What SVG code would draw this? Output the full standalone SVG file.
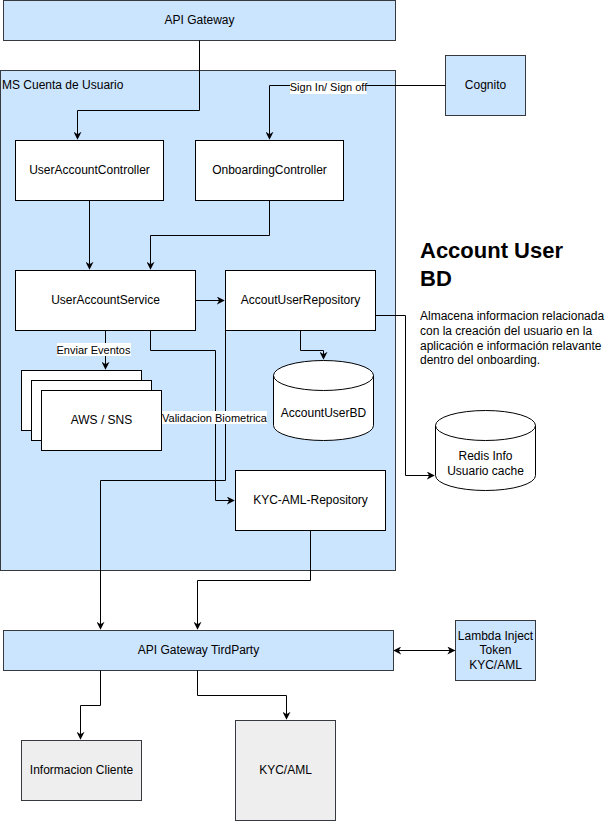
<svg xmlns="http://www.w3.org/2000/svg" width="616" height="821" viewBox="0 0 616 821">
<style>
.blue{fill:#cce5ff;stroke:#36393d;stroke-width:1}
.white{fill:#ffffff;stroke:#000000;stroke-width:1}
.gray{fill:#eeeeee;stroke:#36393d;stroke-width:1}
text{font-family:"Liberation Sans",Arial,Helvetica,sans-serif;font-size:12px;fill:#000000}
.c{text-anchor:middle}
.lbl{font-size:11px}
.e{fill:none;stroke:#000000;stroke-width:1}
.lb{fill:#ffffff}
</style>
<defs>
<marker id="arr" viewBox="0 0 10 10" refX="9" refY="5" markerWidth="8" markerHeight="8" orient="auto-start-reverse" markerUnits="userSpaceOnUse">
<path d="M0,0 L10,5 L0,10 L3,5 Z" fill="#000000"/>
</marker>
</defs>
<g id="ms-container">
<rect class="blue" x="0.5" y="70.5" width="395" height="500"/>
<text x="2" y="89">MS Cuenta de Usuario</text>
</g>
<g id="api-gateway">
<rect class="blue" x="3.5" y="0.5" width="392" height="40"/>
<text class="c" x="199.5" y="24">API Gateway</text>
</g>
<g id="cognito">
<rect class="blue" x="445.5" y="55.5" width="80" height="60"/>
<text class="c" x="485.5" y="89">Cognito</text>
</g>
<g id="user-account-controller">
<rect class="white" x="15.5" y="140.5" width="148" height="60"/>
<text class="c" x="89.5" y="174">UserAccountController</text>
</g>
<g id="onboarding-controller">
<rect class="white" x="195.5" y="140.5" width="148" height="60"/>
<text class="c" x="269.5" y="174">OnboardingController</text>
</g>
<g id="user-account-service">
<rect class="white" x="15.5" y="270.5" width="180" height="60"/>
<text class="c" x="105.5" y="304">UserAccountService</text>
</g>
<g id="accout-user-repository">
<rect class="white" x="225.5" y="270.5" width="150" height="60"/>
<text class="c" x="300.5" y="304">AccoutUserRepository</text>
</g>
<g id="aws-sns">
<rect class="white" x="21.5" y="370.5" width="120" height="60"/>
<rect class="white" x="31.5" y="380.5" width="120" height="60"/>
<rect class="white" x="41.5" y="390.5" width="120" height="60"/>
<text class="c" x="101.5" y="424">AWS / SNS</text>
</g>
<g id="account-user-bd">
<path class="white" d="M273.5,375.5 A50,15 0 0 1 373.5,375.5 L373.5,425.5 A50,15 0 0 1 273.5,425.5 Z"/>
<path class="e" d="M273.5,375.5 A50,15 0 0 0 373.5,375.5"/>
<text class="c" x="323.5" y="417">AccountUserBD</text>
</g>
<g id="redis">
<path class="white" d="M435.5,425.5 A50,15 0 0 1 535.5,425.5 L535.5,475.5 A50,15 0 0 1 435.5,475.5 Z"/>
<path class="e" d="M435.5,425.5 A50,15 0 0 0 535.5,425.5"/>
<text class="c" x="485.5" y="460">Redis Info</text>
<text class="c" x="485.5" y="475">Usuario cache</text>
</g>
<g id="kyc-aml-repository">
<rect class="white" x="235.5" y="470.5" width="150" height="60"/>
<text class="c" x="310.5" y="504">KYC-AML-Repository</text>
</g>
<g id="api-gateway-tirdparty">
<rect class="blue" x="3.5" y="630.5" width="390" height="40"/>
<text class="c" x="198.5" y="654">API Gateway TirdParty</text>
</g>
<g id="lambda">
<rect class="blue" x="455.5" y="620.5" width="80" height="60"/>
<text class="c" x="495.5" y="640">Lambda Inject</text>
<text class="c" x="495.5" y="654">Token</text>
<text class="c" x="495.5" y="669">KYC/AML</text>
</g>
<g id="informacion-cliente">
<rect class="gray" x="21.5" y="740.5" width="120" height="60"/>
<text class="c" x="81.5" y="774">Informacion Cliente</text>
</g>
<g id="kyc-aml">
<rect class="gray" x="235.5" y="720.5" width="100" height="100"/>
<text class="c" x="285.5" y="774">KYC/AML</text>
</g>
<g id="description">
<text x="420" y="258" style="font-size:22px;font-weight:bold">Account User</text>
<text x="420" y="286" style="font-size:22px;font-weight:bold">BD</text>
<text x="420" y="320">Almacena informacion relacionada</text>
<text x="420" y="335">con la creación del usuario en la</text>
<text x="420" y="350">aplicación e información relavante</text>
<text x="420" y="364">dentro del onboarding.</text>
</g>
<g id="connectors">
<path class="e" d="M199.5,40.5 V110.5 H77.5 V139" marker-end="url(#arr)"/>
<path class="e" d="M445.5,85.5 H269.5 V139" marker-end="url(#arr)"/>
<rect class="lb" x="290" y="81" width="77" height="13"/>
<text class="lbl" x="328.5" y="91" text-anchor="middle">Sign In/ Sign off</text>
<path class="e" d="M89.5,200.5 V269" marker-end="url(#arr)"/>
<path class="e" d="M269.5,200.5 V235.5 H150.5 V269" marker-end="url(#arr)"/>
<path class="e" d="M195.5,300.5 H224" marker-end="url(#arr)"/>
<path class="e" d="M105.5,330.5 V369" marker-end="url(#arr)"/>
<rect class="lb" x="57" y="343" width="74" height="13"/>
<text class="lbl" x="93.5" y="354" text-anchor="middle">Enviar Eventos</text>
<path class="e" d="M150.5,330.5 V350.5 H215.5 V500.5 H234" marker-end="url(#arr)"/>
<path class="e" d="M300.5,330.5 V350.5 H323.5 V359" marker-end="url(#arr)"/>
<path class="e" d="M375.5,315.5 H405.5 V475.5 H434" marker-end="url(#arr)"/>
<path class="e" d="M225.5,330.5 V480.5 H100.5 V629" marker-end="url(#arr)"/>
<rect class="lb" x="162" y="411" width="105" height="13"/>
<text class="lbl" x="214.5" y="422" text-anchor="middle">Validacion Biometrica</text>
<path class="e" d="M310.5,530.5 V580.5 H197.5 V629" marker-end="url(#arr)"/>
<path class="e" d="M394,650.5 H454.5" marker-start="url(#arr)" marker-end="url(#arr)"/>
<path class="e" d="M100.5,670.5 V705.5 H80.5 V739" marker-end="url(#arr)"/>
<path class="e" d="M197.5,670.5 V695.5 H286.5 V719" marker-end="url(#arr)"/>
</g>
</svg>
